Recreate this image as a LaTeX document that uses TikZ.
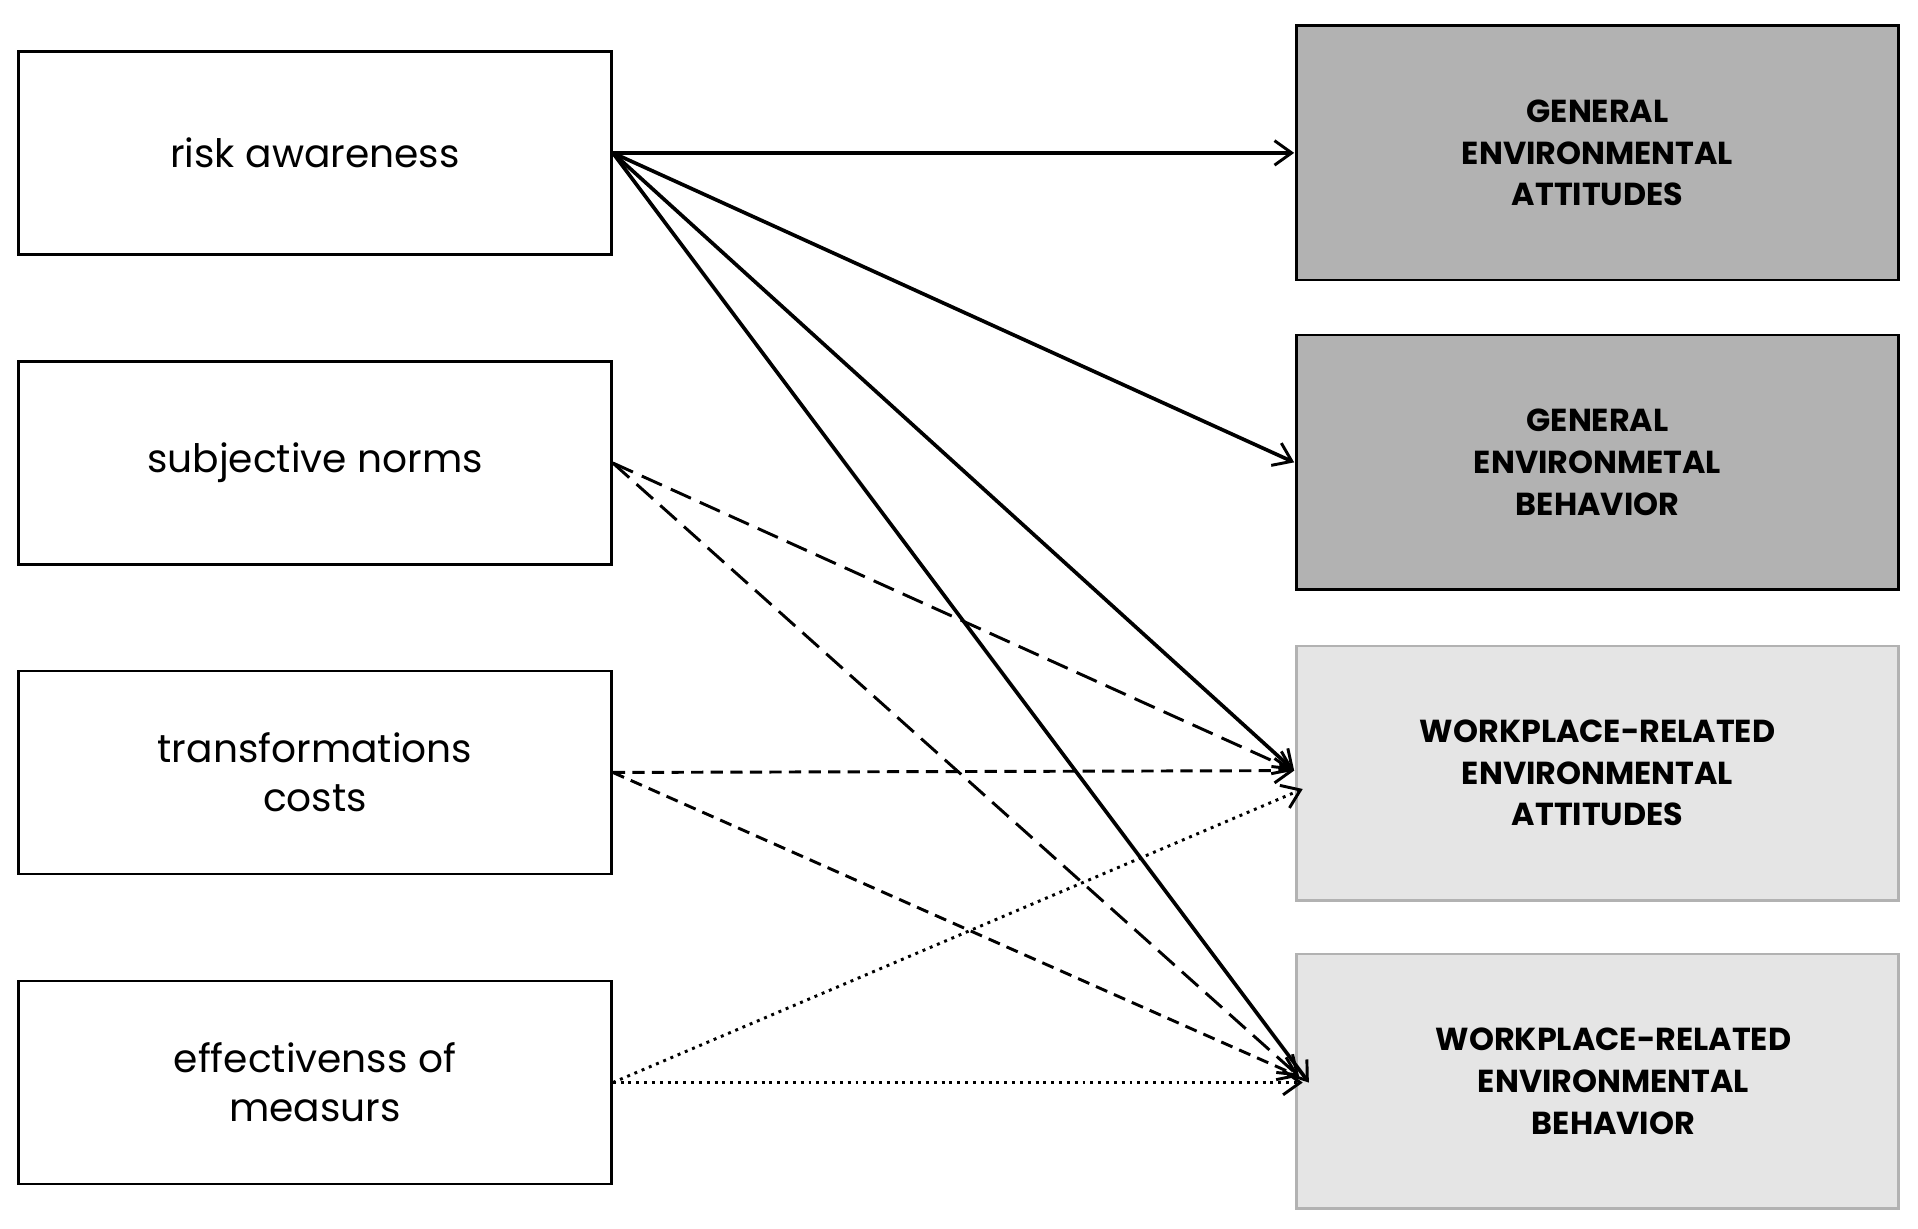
\documentclass[tikz,border=0pt]{standalone}
\usepackage{fontspec}
\setmainfont{Poppins}
\usetikzlibrary{arrows.meta}
\begin{document}
\begin{tikzpicture}[x=0.5pt,y=-0.5pt,
 lbox/.style={draw,line width=1pt,minimum width=242.5pt,minimum height=83pt,align=center,font=\fontsize{16}{20}\selectfont,inner sep=0pt},
 rbox/.style={draw,line width=1pt,minimum width=246pt,minimum height=104pt,align=center,font=\bfseries\fontsize{13}{17}\selectfont,inner sep=0pt},
 dk/.style={fill=black!30},
 lt/.style={fill=black!10,draw=black!30},
 arr/.style={line width=1.5pt,-{Straight Barb[length=7pt,width=10pt,line width=1.2pt]}},
 ldash/.style={arr,dash pattern=on 9pt off 4pt,line width=1.2pt},
 sdash/.style={arr,dash pattern=on 5pt off 3pt,line width=1.2pt},
 dots/.style={arr,dash pattern=on 1.2pt off 2pt,line width=1.2pt}]
\useasboundingbox (0,0) rectangle (1568,1004);
\node[lbox] (l1) at (257.5,125) {risk awareness};
\node[lbox] (l2) at (257.5,378.5) {subjective norms};
\node[lbox] (l3) at (257.5,631.5) {transformations\\costs};
\node[lbox] (l4) at (257.5,885) {effectivenss of\\measurs};
\node[rbox,dk] (r1) at (1306,125) {GENERAL\\ENVIRONMENTAL\\ATTITUDES};
\node[rbox,dk] (r2) at (1306,378) {GENERAL\\ENVIRONMETAL\\BEHAVIOR};
\node[rbox,lt] (r3) at (1306,632) {WORKPLACE-RELATED\\ENVIRONMENTAL\\ATTITUDES};
\node[rbox,lt] (r4) at (1306,884) {\hspace*{13pt}WORKPLACE-RELATED\\\hspace*{13pt}ENVIRONMENTAL\\\hspace*{13pt}BEHAVIOR};
\coordinate (a1) at (1058,125);
\coordinate (a2) at (1058,378);
\coordinate (a3) at (1058,630);
\coordinate (a4) at (1070,885);
\coordinate (b4) at (1062,880);
\coordinate (c3) at (1065,645);
\coordinate (c4) at (1065,885);
\draw[arr] (l1.east) -- (a1);
\draw[arr] (l1.east) -- (a2);
\draw[arr] (l1.east) -- (a3);
\draw[arr] (l1.east) -- (a4);
\draw[ldash] (l2.east) -- (a3);
\draw[ldash] (l2.east) -- (b4);
\draw[sdash] (l3.east) -- (a3);
\draw[sdash] (l3.east) -- (b4);
\draw[dots] (l4.east) -- (c3);
\draw[dots] (l4.east) -- (c4);
\end{tikzpicture}
\end{document}
